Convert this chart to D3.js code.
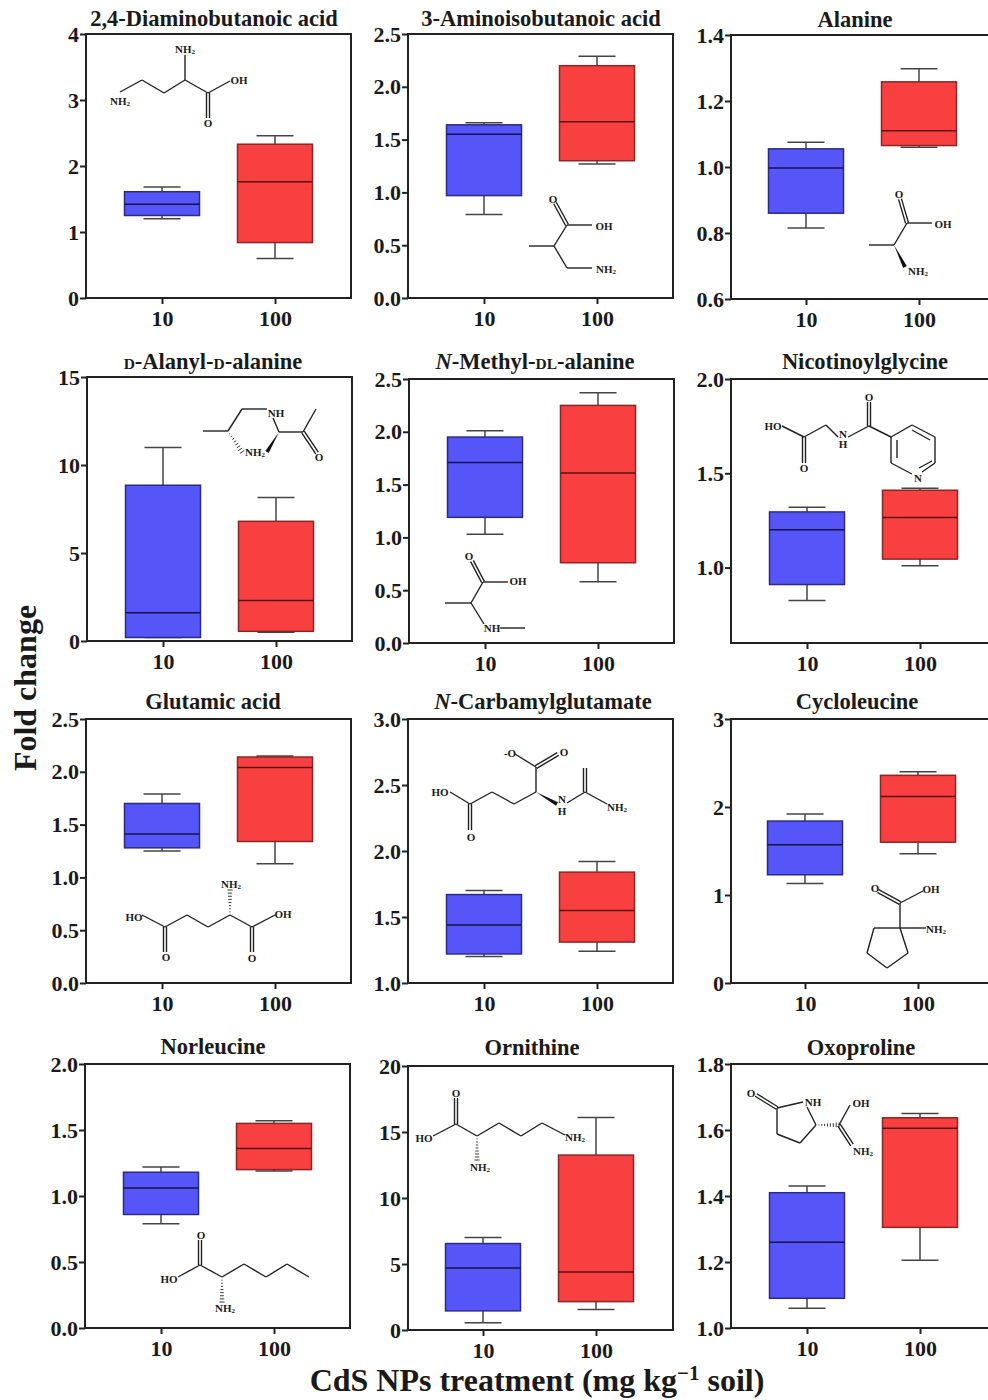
<!DOCTYPE html>
<html>
<head>
<meta charset="utf-8">
<script src="https://cdn.jsdelivr.net/npm/d3@7"></script>
<style>
  html, body { margin: 0; padding: 0; background: #fff; }
  svg { display: block; }
  text { font-family: "Liberation Serif", serif; font-weight: bold; fill: #1a1a1a; }
</style>
</head>
<body>
<div id="chart"></div>
<script>
const doses = ['10', '100']

// [text, italic?, smallcaps?] pieces for each title
const titles = [
  [['2,4-Diaminobutanoic acid']],
  [['3-Aminoisobutanoic acid']],
  [['Alanine']],
  [['D', 'sc'], ['-Alanyl-'], ['D', 'sc'], ['-alanine']],
  [['N', 'it'], ['-Methyl-'], ['DL', 'sc'], ['-alanine']],
  [['Nicotinoylglycine']],
  [['Glutamic acid']],
  [['N', 'it'], ['-Carbamylglutamate']],
  [['Cycloleucine']],
  [['Norleucine']],
  [['Ornithine']],
  [['Oxoproline']]
]

const yDomains = [[0, 4], [0, 2.5], [0.6, 1.4], [0, 15], [0, 2.5], [0.6, 2], [0, 2.5], [1, 3], [0, 3], [0, 2], [0, 20], [1, 1.8]]
const yTicks = [
  [0, 1, 2, 3, 4],
  [0, 0.5, 1, 1.5, 2, 2.5],
  [0.6, 0.8, 1, 1.2, 1.4],
  [0, 5, 10, 15],
  [0, 0.5, 1, 1.5, 2, 2.5],
  [1, 1.5, 2],
  [0, 0.5, 1, 1.5, 2, 2.5],
  [1, 1.5, 2, 2.5, 3],
  [0, 1, 2, 3],
  [0, 0.5, 1, 1.5, 2],
  [0, 5, 10, 15, 20],
  [1, 1.2, 1.4, 1.6, 1.8]
]
const yDecimals = [0, 1, 1, 0, 1, 1, 1, 1, 0, 1, 0, 1]

// min, q1, median, q3, max
const stats10 = [
  [1.2, 1.25, 1.42, 1.61, 1.68],
  [0.79, 0.97, 1.55, 1.64, 1.66],
  [0.815, 0.86, 0.997, 1.055, 1.075],
  [0.2, 0.2, 1.6, 8.85, 11],
  [1.03, 1.19, 1.71, 1.95, 2.01],
  [0.825, 0.91, 1.2, 1.295, 1.32],
  [1.25, 1.28, 1.41, 1.7, 1.79],
  [1.2, 1.22, 1.44, 1.67, 1.7],
  [1.13, 1.23, 1.57, 1.84, 1.92],
  [0.79, 0.86, 1.06, 1.18, 1.22],
  [0.55, 1.45, 4.7, 6.55, 7],
  [1.06, 1.09, 1.26, 1.41, 1.43]
]
const stats100 = [
  [0.6, 0.84, 1.76, 2.33, 2.46],
  [1.27, 1.3, 1.67, 2.2, 2.29],
  [1.06, 1.065, 1.11, 1.258, 1.298],
  [0.5, 0.55, 2.3, 6.8, 8.15],
  [0.58, 0.76, 1.61, 2.25, 2.37],
  [1.01, 1.045, 1.265, 1.41, 1.42],
  [1.13, 1.34, 2.04, 2.14, 2.15],
  [1.24, 1.31, 1.55, 1.84, 1.92],
  [1.47, 1.6, 2.12, 2.36, 2.4],
  [1.19, 1.2, 1.36, 1.55, 1.57],
  [1.55, 2.15, 4.4, 13.25, 16.1],
  [1.205, 1.305, 1.605, 1.637, 1.65]
]

// panel frames: left, top, title centre, title baseline, x position of first box
const frames = [
  [86, 34, 214, 26, 162], [408, 34, 541, 26, 484], [731, 35, 855, 27, 806],
  [87, 377, 213, 369, 163], [409, 379, 535, 369, 485], [731, 379, 865, 369, 807],
  [86, 719, 213, 709, 162], [408, 719, 543, 709, 484], [731, 719, 857, 709, 805],
  [85, 1064, 213, 1054, 161], [408, 1066, 532, 1055, 483], [731, 1064, 861, 1055, 807]
]
const frameW = 265
const frameH = 264
const boxGap = 113

// structure drawings, page pixels. bonds: [x1,y1,x2,y2,kind] kind: d double, w wedge, h hashed
const molecules = [
  { bonds: [[120,92,142,80],[142,80,164,93],[164,93,185,80],[185,80,208,93],[185,80,185,55],[208,93,230,81],[208,93,208,118,'d']],
    labels: [[120,101,'NH2'],[185,49,'NH2'],[239,80,'OH'],[208,123,'O']] },
  { bonds: [[529,246,554,246],[554,246,567,225],[567,225,555,203,'d'],[567,225,592,225],[554,246,567,268],[567,268,592,268]],
    labels: [[553,199,'O'],[604,226,'OH'],[606,269,'NH2']] },
  { bonds: [[869,245,894,245],[894,245,907,223],[907,223,900,199,'d'],[907,223,932,223],[894,245,905,267,'w']],
    labels: [[899,194,'O'],[943,224,'OH'],[918,271,'NH2']] },
  { bonds: [[203,431,228,431],[228,431,242,409],[242,409,267,409],[273,418,279,432],[279,432,303,432],[303,432,316,409],[303,432,317,453,'d'],[279,432,267,452,'w'],[228,431,242,452,'h']],
    labels: [[276,413,'NH'],[319,457,'O'],[255,452,'NH2']] },
  { bonds: [[445,603,471,603],[471,603,483,582],[483,582,472,561,'d'],[483,582,508,582],[471,603,484,624],[500,628,525,628]],
    labels: [[469,556,'O'],[518,581,'OH'],[492,628,'NH']] },
  { bonds: [[782,426,804,437],[804,437,804,463,'d'],[804,437,826,425],[826,425,838,437],[848,437,869,426],[869,426,869,402,'d'],[869,426,891,437],
      [891,437,912,425],[912,425,935,437],[935,437,935,463],[935,463,922,472],[912,474,891,463],[891,463,891,437],[897,440,897,458],[912,430,930,440],[919,468,932,461]],
    labels: [[773,426,'HO'],[804,468,'O'],[843,434,'N'],[843,444,'H'],[869,397,'O'],[918,478,'N']] },
  { bonds: [[142,915,165,927],[165,927,165,952,'d'],[165,927,187,915],[187,915,208,927],[208,927,230,915],[230,915,252,927],[252,927,275,915],[252,927,252,952,'d'],[230,915,230,890,'h']],
    labels: [[134,917,'HO'],[166,957,'O'],[283,914,'OH'],[252,958,'O'],[231,884,'NH2']] },
  { bonds: [[450,792,470,804],[470,804,470,830,'d'],[470,804,492,792],[492,792,514,804],[514,804,536,792],[536,792,536,767],[536,767,558,754,'d'],[536,767,515,754],[536,792,557,804,'w'],[567,803,585,792],[585,792,585,768,'d'],[585,792,607,804]],
    labels: [[440,792,'HO'],[471,837,'O'],[564,752,'O'],[510,753,'-O'],[562,799,'N'],[562,811,'H'],[617,807,'NH2']] },
  { bonds: [[878,891,900,903,'d'],[900,903,923,891],[900,903,900,928],[900,928,874,928],[874,928,867,953],[867,953,887,968],[887,968,908,953],[908,953,900,928],[900,928,926,928]],
    labels: [[875,888,'O'],[931,889,'OH'],[936,929,'NH2']] },
  { bonds: [[200,1240,200,1265,'d'],[178,1277,200,1265],[200,1265,222,1277],[222,1277,244,1264],[244,1264,266,1277],[266,1277,287,1264],[287,1264,309,1277],[222,1277,222,1302,'h']],
    labels: [[201,1235,'O'],[169,1279,'HO'],[225,1308,'NH2']] },
  { bonds: [[456,1098,456,1124,'d'],[433,1136,456,1124],[456,1124,477,1136],[477,1136,499,1123],[499,1123,521,1136],[521,1136,542,1123],[542,1123,565,1135],[477,1136,477,1160,'h']],
    labels: [[456,1093,'O'],[424,1138,'HO'],[575,1137,'NH2'],[480,1167,'NH2']] },
  { bonds: [[756,1095,777,1108,'d'],[777,1108,803,1102],[777,1108,777,1134],[777,1134,800,1143],[800,1143,816,1125],[816,1125,807,1107],[816,1125,839,1125,'h'],[839,1125,850,1105],[839,1125,852,1145,'d']],
    labels: [[751,1093,'O'],[813,1102,'NH'],[861,1103,'OH'],[863,1151,'NH2']] }
]

const boxColors = { '10': '#5555f8', '100': '#f94040' }
const boxStrokes = { '10': '#2b2b86', '100': '#8a2626' }
const medianStrokes = { '10': '#14144a', '100': '#5a1010' }

const svg = d3.select('#chart').append('svg')
  .attr('width', 988)
  .attr('height', 1400)

const drawPanel = (i) => {
  const [left, top, titleX, titleY, firstX] = frames[i]
  const g = svg.append('g')

  const x = d3.scalePoint().domain(doses).range([firstX, firstX + boxGap])
  const y = d3.scaleLinear().domain(yDomains[i]).range([top + frameH, top])

  g.append('rect')
    .attr('x', left).attr('y', top)
    .attr('width', frameW).attr('height', frameH)
    .attr('fill', 'none')
    .attr('stroke', '#222')
    .attr('stroke-width', 2)

  const yAxis = g.append('g')
    .attr('transform', `translate(${left},0)`)
    .call(d3.axisLeft(y).tickValues(yTicks[i]).tickSize(6).tickPadding(1)
      .tickFormat(d3.format(`.${yDecimals[i]}f`)))
  const xAxis = g.append('g')
    .attr('transform', `translate(0,${top + frameH})`)
    .call(d3.axisBottom(x).tickSize(6).tickPadding(6))

  ;[yAxis, xAxis].forEach(a => {
    a.select('.domain').remove()
    a.selectAll('line').attr('stroke', '#222').attr('stroke-width', 2)
    a.selectAll('text').style('font-size', '22px')
  })

  doses.forEach((dose, j) => {
    const s = (j === 0 ? stats10 : stats100)[i]
    const cx = x(dose)
    const halfBox = 37.5
    const halfCap = 18.5
    const whisker = g.append('g').attr('stroke', '#444').attr('stroke-width', 1.5)
    whisker.append('line').attr('x1', cx).attr('x2', cx).attr('y1', y(s[0])).attr('y2', y(s[4]))
    whisker.append('line').attr('x1', cx - halfCap).attr('x2', cx + halfCap).attr('y1', y(s[0])).attr('y2', y(s[0]))
    whisker.append('line').attr('x1', cx - halfCap).attr('x2', cx + halfCap).attr('y1', y(s[4])).attr('y2', y(s[4]))

    g.append('rect')
      .attr('x', cx - halfBox).attr('width', halfBox * 2)
      .attr('y', y(s[3])).attr('height', y(s[1]) - y(s[3]))
      .attr('fill', boxColors[dose])
      .attr('stroke', boxStrokes[dose])
      .attr('stroke-width', 1.5)
    g.append('line')
      .attr('x1', cx - halfBox).attr('x2', cx + halfBox)
      .attr('y1', y(s[2])).attr('y2', y(s[2]))
      .attr('stroke', medianStrokes[dose])
      .attr('stroke-width', 1.5)
  })

  const title = g.append('text')
    .attr('x', titleX).attr('y', titleY)
    .attr('text-anchor', 'middle')
    .style('font-size', '22.5px')
  titles[i].forEach(([t, kind]) => {
    const span = title.append('tspan').text(t)
    if (kind === 'it') span.style('font-style', 'italic')
    if (kind === 'sc') span.style('font-size', '15.5px')
  })

  drawMolecule(g, molecules[i])
}

const drawMolecule = (g, mol) => {
  const m = g.append('g')
  mol.bonds.forEach(([x1, y1, x2, y2, kind]) => {
    const len = Math.hypot(x2 - x1, y2 - y1)
    const nx = -(y2 - y1) / len
    const ny = (x2 - x1) / len
    if (kind === 'd') {
      [-1.5, 1.5].forEach(o => {
        m.append('line')
          .attr('x1', x1 + nx * o).attr('y1', y1 + ny * o)
          .attr('x2', x2 + nx * o).attr('y2', y2 + ny * o)
          .attr('stroke', '#222').attr('stroke-width', 1.4)
      })
    } else if (kind === 'w') {
      m.append('path')
        .attr('d', d3.line()([[x1, y1], [x2 + nx * 2, y2 + ny * 2], [x2 - nx * 2, y2 - ny * 2]]) + 'Z')
        .attr('fill', '#111')
    } else if (kind === 'h') {
      d3.range(1, 9).forEach(k => {
        const t = k / 8
        const w = 2.2 * t + 0.3
        const px = x1 + (x2 - x1) * t
        const py = y1 + (y2 - y1) * t
        m.append('line')
          .attr('x1', px + nx * w).attr('y1', py + ny * w)
          .attr('x2', px - nx * w).attr('y2', py - ny * w)
          .attr('stroke', '#222').attr('stroke-width', 0.9)
      })
    } else {
      m.append('line')
        .attr('x1', x1).attr('y1', y1).attr('x2', x2).attr('y2', y2)
        .attr('stroke', '#222').attr('stroke-width', 1.4)
    }
  })
  mol.labels.forEach(([lx, ly, t]) => {
    const label = m.append('text')
      .attr('x', lx).attr('y', ly + 3.5)
      .attr('text-anchor', 'middle')
      .style('font-size', '11px')
    if (t.endsWith('2')) {
      label.append('tspan').text(t.slice(0, -1))
      label.append('tspan').text('2').style('font-size', '7px').attr('dy', 1.5)
    } else {
      label.text(t)
    }
  })
}

d3.range(titles.length).forEach(drawPanel)

svg.append('text')
  .attr('transform', 'translate(36,688) rotate(-90)')
  .attr('text-anchor', 'middle')
  .style('font-size', '32px')
  .text('Fold change')

const xTitle = svg.append('text')
  .attr('x', 537).attr('y', 1391)
  .attr('text-anchor', 'middle')
  .style('font-size', '32px')
xTitle.append('tspan').text('CdS NPs treatment (mg kg')
xTitle.append('tspan').text('−1').style('font-size', '21px').attr('dy', -11)
xTitle.append('tspan').text(' soil)').attr('dy', 11)
</script>
</body>
</html>
